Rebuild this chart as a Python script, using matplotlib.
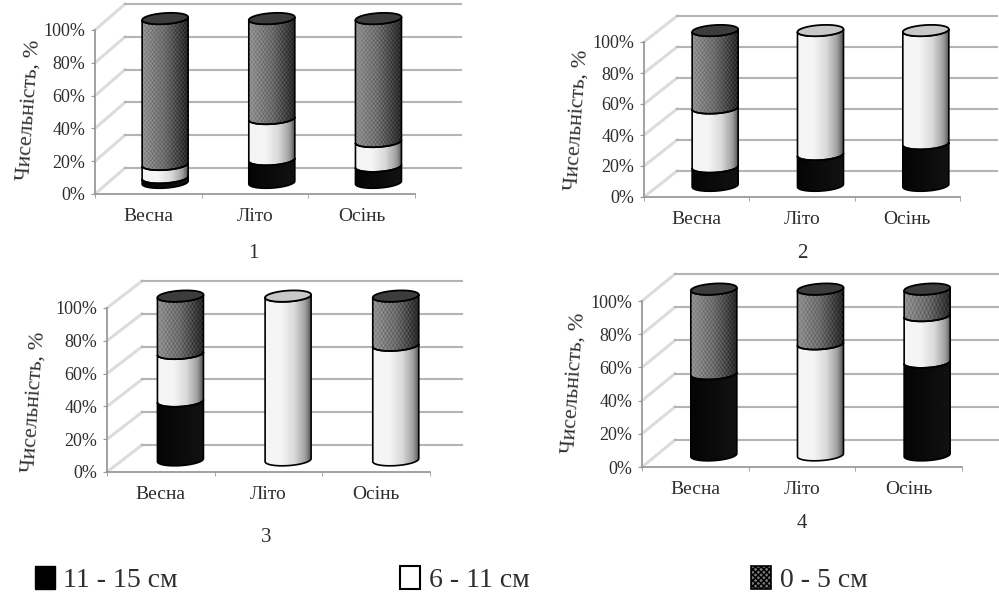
import numpy as np
import matplotlib
matplotlib.use('Agg')
import matplotlib.pyplot as plt
from matplotlib.patches import Patch, Polygon

plt.rcParams['font.family'] = ['Liberation Serif', 'DejaVu Serif']

seasons = ['Весна', 'Літо', 'Осінь']
percent_ticks = [0, 20, 40, 60, 80, 100]
legend_labels = ['11 - 15 см', '6 - 11 см', '0 - 5 см']

black_1 = [3, 14, 10]
white_1 = [8, 25, 15]
dark_1 = [89, 61, 75]

black_2 = [12, 20, 27]
white_2 = [38, 80, 73]
dark_2 = [50, 0, 0]

black_3 = [36, 0, 0]
white_3 = [29, 100, 70]
dark_3 = [35, 0, 30]

black_4 = [49, 0, 56]
white_4 = [0, 67, 28]
dark_4 = [51, 33, 16]

W, H = 999, 595
TEXT = '#2e2e2e'
AXIS = '#9a9a9a'
GRID = '#b4b4b4'
DIAG = '#dcdcdc'


def shade(kind, rows, cols=24):
    x = np.linspace(0, 1, cols)
    if kind == 'black':
        g = 0.02 + 0.05 * x
    elif kind == 'white':
        g = np.interp(x, [0, 0.35, 0.65, 0.9, 1], [0.96, 0.96, 0.85, 0.62, 0.38])
    else:
        g = np.interp(x, [0, 0.5, 1], [0.56, 0.42, 0.16])
    img = np.tile(g, (rows, 1))
    if kind == 'dark':
        jj, ii = np.meshgrid(np.arange(cols), np.arange(rows))
        img = img + 0.11 * (((ii + jj) % 2) * 2 - 1)
    return np.clip(img, 0, 1)


def arc(cx, cy, half_w, b, tilt, front=True):
    t = np.linspace(np.pi, 2 * np.pi, 40) if front else np.linspace(0, np.pi, 40)
    return cx + half_w * np.cos(t), cy + b * np.sin(t) + tilt * np.cos(t)


def draw_cylinder(ax, cx, y0, stack, half_w, b, tilt):
    base = y0
    last = None
    for kind, val in stack:
        if val <= 0:
            continue
        top = base + val
        xb, yb = arc(cx, base, half_w, b, tilt)
        xt, yt = arc(cx, top, half_w, b, tilt)
        pts = np.column_stack([np.r_[xb, xt[::-1]], np.r_[yb, yt[::-1]]])
        poly = Polygon(pts, closed=True, fc='none', ec='black', lw=1.2, zorder=4, clip_on=False)
        ax.add_patch(poly)
        rows = max(int(val * 0.8), 2)
        im = ax.imshow(shade(kind, rows), cmap='gray', vmin=0, vmax=1, aspect='auto',
                       extent=(cx - half_w, cx + half_w, base - 2 * b, top + 2 * b),
                       interpolation='bilinear', zorder=3)
        im.set_clip_box(ax.figure.bbox)
        im.set_clip_path(poly)
        base = top
        last = kind
    # lid
    xf, yf = arc(cx, base, half_w, b, tilt)
    xr, yr = arc(cx, base, half_w, b, tilt, front=False)
    lid = Polygon(np.column_stack([np.r_[xf, xr], np.r_[yf, yr]]), closed=True,
                  fc={'white': '#c8c8c8', 'dark': '#3c3c3c', 'black': '#111111'}[last],
                  ec='black', lw=1.3, zorder=5, clip_on=False)
    ax.add_patch(lid)


def draw_panel(fig, box, depth, back_right, series, name, name_xy, ylabel_xy):
    left, right, bottom, top = box
    ax = fig.add_axes((left / W, 1 - bottom / H, (right - left) / W, (bottom - top) / H))
    ax.patch.set_alpha(0)
    dx = depth[0] / (right - left) * 3
    dy = depth[1] / (bottom - top) * 100
    x_end = (back_right - left) / (right - left) * 3

    for v in percent_ticks:
        ax.plot([0, dx], [v, v + dy], color=DIAG, lw=2.2, clip_on=False, zorder=1)
        if v > 0:
            ax.plot([dx, x_end], [v + dy, v + dy], color=GRID, lw=1.5, clip_on=False, zorder=1)
    ax.plot([dx, x_end], [dy, dy], color=GRID, lw=1.5, clip_on=False, zorder=1)

    b = 5.5 / (bottom - top) * 100
    half_w = 23.0 / (right - left) * 3
    for i in range(3):
        stack = [('black', series[0][i]), ('white', series[1][i]), ('dark', series[2][i])]
        draw_cylinder(ax, i + 0.5 + dx * 0.56, dy * 0.44, stack, half_w, b, 0.9)

    ax.set_xlim(0, 3)
    ax.set_ylim(0, 100)
    ax.set_xticks([0.5, 1.5, 2.5], seasons)
    ax.set_xticks([0, 1, 2, 3], minor=True)
    ax.set_yticks(percent_ticks, [f'{v}%' for v in percent_ticks])
    ax.tick_params(axis='x', which='major', length=0, pad=10, labelsize=14, labelcolor=TEXT)
    ax.tick_params(axis='x', which='minor', length=3, color=AXIS)
    ax.tick_params(axis='y', length=3, pad=4, labelsize=13, labelcolor=TEXT, color=AXIS)
    for s in ['top', 'right']:
        ax.spines[s].set_visible(False)
    for s in ['left', 'bottom']:
        ax.spines[s].set_color(AXIS)
        ax.spines[s].set_linewidth(1.3)

    fig.text(ylabel_xy[0] / W, 1 - ylabel_xy[1] / H, 'Чисельність, %', rotation=86,
             rotation_mode='anchor', ha='center', va='center', fontsize=15.5, color=TEXT)
    fig.text(name_xy[0] / W, 1 - name_xy[1] / H, name, ha='center', va='center',
             fontsize=15, color=TEXT)


fig = plt.figure(figsize=(W / 100, H / 100), dpi=100)

draw_panel(fig, (95, 415, 194, 30), (30, 26), 461, (black_1, white_1, dark_1), '1', (253, 253), (29, 110))
draw_panel(fig, (644, 960, 197, 42), (33, 26), 997, (black_2, white_2, dark_2), '2', (802, 253), (577, 120))
draw_panel(fig, (107, 430, 472, 308), (35, 27), 462, (black_3, white_3, dark_3), '3', (266, 538), (34, 402))
draw_panel(fig, (642, 962, 467, 301), (33, 27), 998, (black_4, white_4, dark_4), '4', (802, 523), (574, 383))

handles = [Patch(fc='black', ec='black'),
           Patch(fc='white', ec='black', lw=1.5),
           Patch(fc='#777777', ec='black', hatch='xxxxxx', lw=1.2)]
fig.legend(handles, legend_labels, ncol=3, loc='lower left', bbox_to_anchor=(35 / W, 0.004),
           frameon=False, fontsize=20, labelcolor=TEXT, handlelength=0.72, handleheight=0.9,
           handletextpad=0.3, columnspacing=8.0, borderpad=0, borderaxespad=0)

fig.savefig('out.png', dpi=100)
